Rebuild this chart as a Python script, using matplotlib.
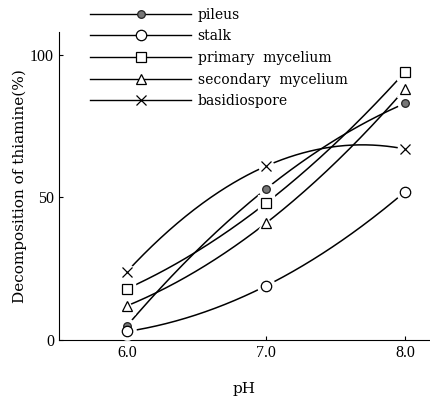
import numpy as np
import matplotlib
matplotlib.use("Agg")
import matplotlib.pyplot as plt
from matplotlib.lines import Line2D

ph = [6.0, 7.0, 8.0]
pileus = [5, 53, 83]
stalk = [3, 19, 52]
primary = [18, 48, 94]
secondary = [12, 41, 88]
basidiospore = [24, 61, 67]
labels = ["pileus", "stalk", "primary  mycelium", "secondary  mycelium", "basidiospore"]

plt.rcParams['font.family'] = ['Liberation Serif', 'DejaVu Serif']

fig = plt.figure(figsize=(4.30, 4.01), dpi=100)
ax = fig.add_axes([0.137, 0.152, 0.863, 0.768])

series = [pileus, stalk, primary, secondary, basidiospore]
styles = [
    dict(marker='o', ms=5.5, mfc='#777777', mec='#222222'),
    dict(marker='o', ms=7.5, mfc='white', mec='black'),
    dict(marker='s', ms=6.5, mfc='white', mec='black'),
    dict(marker='^', ms=7, mfc='white', mec='black'),
    dict(marker='x', ms=6.5, mfc='none', mec='black'),
]

handles = []
for ys, st in zip(series, styles):
    c = np.polyfit(ph, ys, 2)
    xs = np.linspace(ph[0], ph[-1], 200)
    ax.plot(xs, np.polyval(c, xs), color='black', lw=1.1, zorder=2)
    if st['marker'] != 'x':
        ax.plot(ph, ys, ls='none', marker=st['marker'], ms=st['ms'] + 5,
                mfc='white', mec='white', zorder=3)
    else:
        ax.plot(ph, ys, ls='none', marker='o', ms=st['ms'] + 4,
                mfc='white', mec='white', zorder=3)
    ax.plot(ph, ys, ls='none', mew=0.9, zorder=4, **st)
    handles.append(Line2D([], [], color='black', lw=1.0, mew=0.9, **st))

ax.set_xlim(5.51, 8.18)
ax.set_ylim(0, 108)
ax.set_xticks([6, 7, 8])
ax.set_xticklabels(["6.0", "7.0", "8.0"])
ax.set_yticks([0, 50, 100])
ax.set_yticklabels(["0", "50", "100"])
ax.tick_params(direction='in', length=3, width=0.8, labelsize=11.5)
ax.spines['top'].set_visible(False)
ax.spines['right'].set_visible(False)
ax.set_xlabel("pH", fontsize=11, labelpad=15, family='DejaVu Serif')
ax.set_ylabel("Decomposition of thiamine(%)", fontsize=11, labelpad=2,
              family='DejaVu Serif')

fig.legend(handles, labels, loc='upper left', bbox_to_anchor=(0.18, 1.012),
           frameon=False, handlelength=7.3, numpoints=1,
           prop=dict(family='DejaVu Serif', size=10),
           labelspacing=0.55, handletextpad=0.45)

fig.savefig("out.png", dpi=100)
